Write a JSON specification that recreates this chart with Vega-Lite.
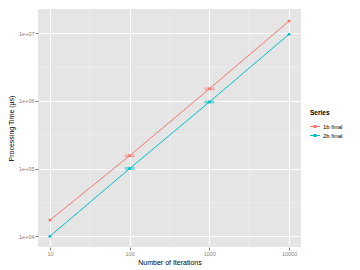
{
  "$schema": "https://vega.github.io/schema/vega-lite/v6.json",
  "width": 263,
  "height": 238,
  "autosize": {"type": "none"},
  "padding": {"left": 38, "top": 9, "right": 59, "bottom": 23},
  "background": "white",
  "config": {
    "view": {"fill": "#E5E5E5", "stroke": null},
    "font": "Liberation Sans",
    "axis": {
      "domain": false,
      "labelColor": "#7F7F7F",
      "labelFontSize": 5.5,
      "tickColor": "#7F7F7F",
      "tickSize": 3,
      "labelPadding": 1,
      "gridColor": "#FFFFFF",
      "gridWidth": 1,
      "titleFontSize": 7,
      "titleFontWeight": "normal",
      "titleColor": "#000000"
    }
  },
  "datasets": {
    "main": [
      {"series": "1b final", "iter": 10, "time": 17300},
      {"series": "1b final", "iter": 100, "time": 155000, "lo": 151000, "hi": 159000},
      {"series": "1b final", "iter": 1000, "time": 1510000, "lo": 1470000, "hi": 1550000},
      {"series": "1b final", "iter": 10000, "time": 15200000},
      {"series": "2b final", "iter": 10, "time": 10000},
      {"series": "2b final", "iter": 100, "time": 100000, "lo": 97500, "hi": 102500},
      {"series": "2b final", "iter": 1000, "time": 965000, "lo": 942000, "hi": 988000},
      {"series": "2b final", "iter": 10000, "time": 9700000}
    ],
    "xminor": [{"iter": 31.62}, {"iter": 316.2}, {"iter": 3162}],
    "yminor": [{"time": 31623}, {"time": 316228}, {"time": 3162278}]
  },
  "layer": [
    {
      "data": {"name": "xminor"},
      "mark": {"type": "rule", "color": "#F2F2F2", "strokeWidth": 0.6},
      "encoding": {
        "x": {"field": "iter", "type": "quantitative", "title": "Number of Iterations",
              "scale": {"type": "log", "domain": [7.08, 14125], "nice": false},
              "axis": {"values": [10, 100, 1000, 10000], "format": "d", "titlePadding": 2}}
      }
    },
    {
      "data": {"name": "yminor"},
      "mark": {"type": "rule", "color": "#F2F2F2", "strokeWidth": 0.6},
      "encoding": {
        "y": {"field": "time", "type": "quantitative", "title": "Processing Time  (µs)",
              "scale": {"type": "log", "domain": [6918, 22900000], "nice": false},
              "axis": {"values": [10000, 100000, 1000000, 10000000],
                       "labelExpr": "'1e+0' + round(log(datum.value)/LN10)", "titlePadding": 4}}
      }
    },
    {
      "data": {"name": "main"},
      "mark": {"type": "line", "strokeWidth": 1},
      "encoding": {
        "x": {"field": "iter", "type": "quantitative", "title": "Number of Iterations"},
        "y": {"field": "time", "type": "quantitative", "title": "Processing Time  (µs)"},
        "color": {
          "field": "series", "type": "nominal",
          "scale": {"domain": ["1b final", "2b final"], "range": ["#F8766D", "#00BFC4"]},
          "legend": {
            "title": "Series",
            "orient": "none",
            "legendX": 272,
            "legendY": 101,
            "titleFontSize": 6.5,
            "titleFontWeight": "bold",
            "titleColor": "#000000",
            "labelFontSize": 6,
            "labelColor": "#000000",
            "symbolType": "M-1,-0.1L1,-0.1L1,0.1L-1,0.1Z M-0.3,-0.3L0.3,-0.3L0.3,0.3L-0.3,0.3Z",
            "symbolSize": 100,
            "symbolStrokeWidth": 0,
            "rowPadding": 1,
            "labelOffset": 3,
            "encode": {"symbols": {"update": {
              "fill": {"scale": "color", "field": "value"},
              "stroke": {"scale": "color", "field": "value"},
              "opacity": {"value": 1},
              "fillOpacity": {"value": 1}
            }}}
          }
        }
      }
    },
    {
      "data": {"name": "main"},
      "mark": {"type": "point", "filled": true, "size": 9, "opacity": 1, "shape": "circle"},
      "encoding": {
        "x": {"field": "iter", "type": "quantitative"},
        "y": {"field": "time", "type": "quantitative"},
        "color": {"field": "series", "type": "nominal"}
      }
    },
    {
      "data": {"name": "main"},
      "transform": [{"filter": "isValid(datum.lo)"}],
      "mark": {"type": "rule", "strokeWidth": 1},
      "encoding": {
        "x": {"field": "iter", "type": "quantitative"},
        "y": {"field": "lo", "type": "quantitative", "title": "Processing Time  (µs)"},
        "y2": {"field": "hi"},
        "color": {"field": "series", "type": "nominal"}
      }
    },
    {
      "data": {"name": "main"},
      "transform": [{"filter": "isValid(datum.lo)"}],
      "mark": {"type": "tick", "orient": "horizontal", "size": 10, "thickness": 1},
      "encoding": {
        "x": {"field": "iter", "type": "quantitative"},
        "y": {"field": "lo", "type": "quantitative", "title": "Processing Time  (µs)"},
        "color": {"field": "series", "type": "nominal"}
      }
    },
    {
      "data": {"name": "main"},
      "transform": [{"filter": "isValid(datum.hi)"}],
      "mark": {"type": "tick", "orient": "horizontal", "size": 10, "thickness": 1},
      "encoding": {
        "x": {"field": "iter", "type": "quantitative"},
        "y": {"field": "hi", "type": "quantitative", "title": "Processing Time  (µs)"},
        "color": {"field": "series", "type": "nominal"}
      }
    }
  ]
}
